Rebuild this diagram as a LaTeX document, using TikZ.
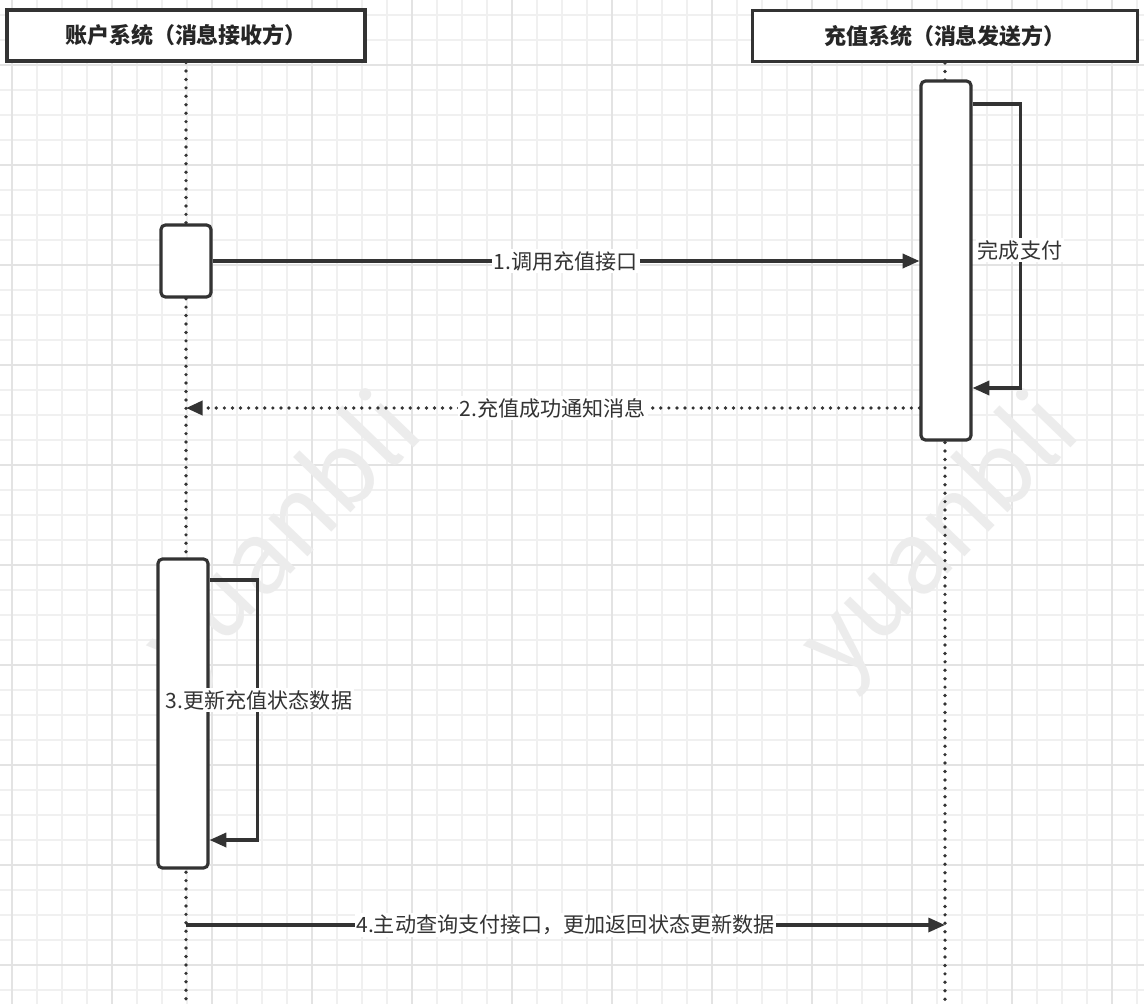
\documentclass[tikz,border=0pt]{standalone}
\usepackage{fontspec}
\setmainfont{Noto Sans CJK SC}
\usetikzlibrary{arrows.meta}
\definecolor{inkgray}{HTML}{333333}
\definecolor{gridminor}{HTML}{F0F0F0}
\definecolor{gridmajor}{HTML}{E3E3E3}
\definecolor{markgray}{HTML}{ECECEC}
\newcommand{\paperGrid}
{   \foreach \gx in {12,37,...,1144} \draw[gridminor,line width=0.7pt] (\gx,0) -- (\gx,1004);
    \foreach \gy in {15,40,...,1004} \draw[gridminor,line width=0.7pt] (0,\gy) -- (1144,\gy);
    \foreach \gx in {12,112,...,1144} \draw[gridmajor,line width=1.1pt] (\gx,0) -- (\gx,1004);
    \foreach \gy in {65,165,...,1004} \draw[gridmajor,line width=1.1pt] (0,\gy) -- (1144,\gy);
}

\begin{document}
\begin{tikzpicture}[x=0.02cm,y=-0.02cm,
    header/.style={draw=inkgray,line width=1.8pt,fill=white,minimum width=#1,minimum height=1.02cm,inner sep=0pt,text=black!85,font=\bfseries\fontsize{12.5}{14}\selectfont},
    actbox/.style={draw=inkgray,line width=1.8pt,fill=white,rounded corners=2.5pt,minimum width=1cm,minimum height=#1,inner sep=0pt},
    lifeline/.style={inkgray,line width=2.1pt,line cap=round,dash pattern=on 0pt off 4.8pt},
    msgline/.style={inkgray,line width=1.8pt,-{Triangle[length=9.5pt,width=8pt]}},
    retline/.style={msgline,line width=2.1pt,line cap=round,dash pattern=on 0pt off 4.6pt},
    msglabel/.style={fill=white,text=inkgray,inner sep=1pt,font=\fontsize{12}{14}\selectfont},
    wmark/.style={text=markgray,rotate=46,font=\fontsize{57}{64}\selectfont}]
  \useasboundingbox (0,0) rectangle (1144,1004);
  \fill[white] (0,0) rectangle (1144,1004);
  \paperGrid
  \node[wmark] (markA) at (285,540) {yuanbli};
  \node[wmark] (markB) at (942,540) {yuanbli};
  % participants
  \node[header=7.16cm] (sysA) at (186,35.5) {账户系统（消息接收方）};
  \node[header=7.7cm] (sysB) at (945,36) {充值系统（消息发送方）};
  \coordinate (endA) at (sysA.south |- 0,1004);
  \coordinate (endB) at (sysB.south |- 0,1004);
  \draw[lifeline] (sysA.south) -- (endA);
  \draw[lifeline] (sysB.south) -- (endB);
  % activations
  \node[actbox=7.18cm] (actPay) at (946,260.5) {};
  \node[actbox=1.44cm] (actCall) at (186,261) {};
  \node[actbox=6.18cm] (actUpd) at (183,713.5) {};
  % messages
  \draw[msgline] (actCall.east) -- (actCall.east -| actPay.west)
    node[msglabel,midway] (lblCall) {1.调用充值接口};
  \coordinate (payTop) at (actPay.east |- 0,104);
  \coordinate (payBot) at (actPay.east |- 0,388);
  \draw[msgline] (payTop) -- ++(48,0) |- (payBot);
  \node[msglabel] (lblPay) at (1020,250) {完成支付};
  \coordinate (backFrom) at (actPay.west |- 0,408);
  \draw[retline] (backFrom) -- (backFrom -| sysA.south)
    node[msglabel,midway] (lblBack) {2.充值成功通知消息};
  \coordinate (updTop) at (actUpd.east |- 0,580);
  \coordinate (updBot) at (actUpd.east |- 0,840);
  \draw[msgline] (updTop) -- ++(48,0) |- (updBot);
  \node[msglabel] (lblUpd) at (259,700) {3.更新充值状态数据};
  \coordinate (queryFrom) at (sysA.south |- 0,925);
  \draw[msgline] (queryFrom) -- (queryFrom -| sysB.south)
    node[msglabel,midway] (lblQuery) {4.主动查询支付接口，更加返回状态更新数据};
\end{tikzpicture}
\end{document}
